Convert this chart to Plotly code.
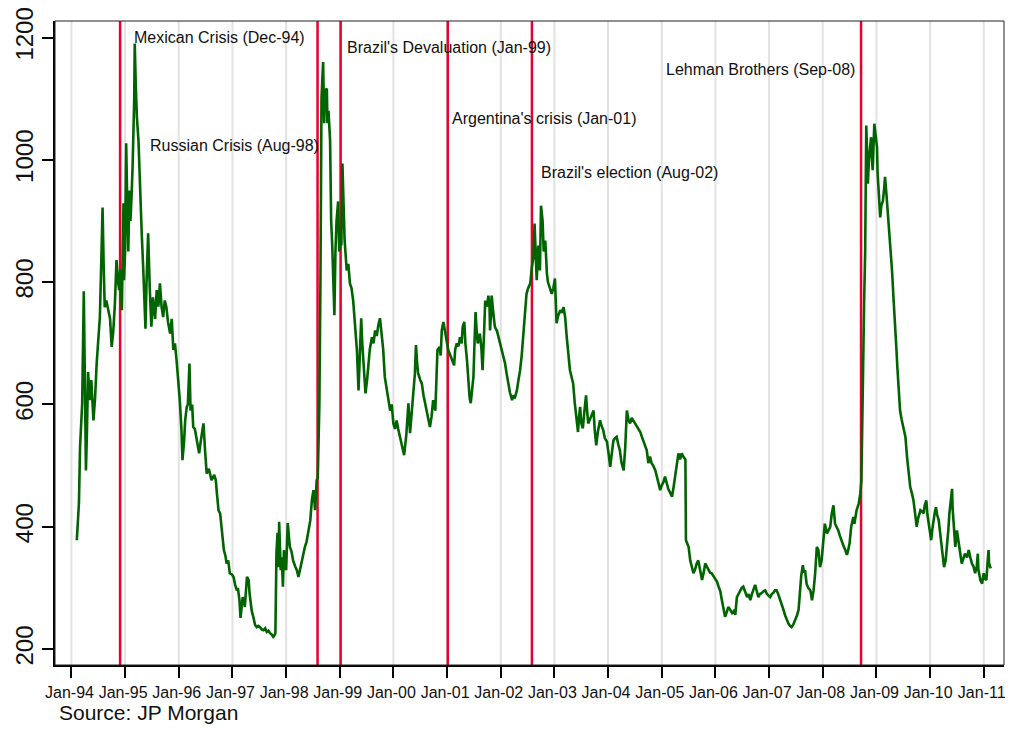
import pandas as pd
import plotly.graph_objects as go

# ---- data (decimal year, spread in bp) ----
obs_1994_1997 = [
    (1994.10, 378), (1994.14, 440), (1994.16, 530), (1994.18, 574), (1994.20, 602), (1994.23, 785),
    (1994.25, 640), (1994.27, 492), (1994.29, 560), (1994.31, 653), (1994.34, 607), (1994.37, 640),
    (1994.41, 574), (1994.44, 610), (1994.47, 667), (1994.50, 716), (1994.53, 743), (1994.56, 847),
    (1994.58, 922), (1994.60, 830), (1994.62, 759), (1994.65, 770), (1994.68, 754), (1994.72, 740),
    (1994.75, 694), (1994.78, 720), (1994.81, 765), (1994.84, 836), (1994.87, 800), (1994.89, 787),
    (1994.91, 820), (1994.94, 754), (1994.97, 929), (1994.98, 803), (1995.00, 850), (1995.02, 1027),
    (1995.04, 933), (1995.06, 850), (1995.08, 950), (1995.10, 900), (1995.12, 939), (1995.14, 988),
    (1995.17, 1098), (1995.18, 1190), (1995.20, 1120), (1995.22, 1070), (1995.25, 1031), (1995.28, 933),
    (1995.31, 880), (1995.34, 819), (1995.38, 724), (1995.40, 800), (1995.43, 880), (1995.46, 790),
    (1995.49, 727), (1995.52, 775), (1995.56, 740), (1995.59, 787), (1995.62, 760), (1995.65, 798),
    (1995.68, 760), (1995.71, 743), (1995.74, 770), (1995.77, 759), (1995.80, 735), (1995.84, 716),
    (1995.87, 740), (1995.90, 689), (1995.93, 700), (1995.96, 672), (1995.99, 640),
    (1996.02, 607), (1996.05, 560), (1996.07, 509), (1996.10, 540), (1996.12, 574), (1996.15, 596),
    (1996.17, 600), (1996.20, 667), (1996.22, 590), (1996.25, 600), (1996.27, 563), (1996.30, 560),
    (1996.33, 547), (1996.36, 530), (1996.38, 520), (1996.41, 540), (1996.46, 569), (1996.49, 525),
    (1996.52, 487), (1996.56, 495), (1996.61, 476), (1996.66, 485), (1996.69, 476), (1996.71, 455),
    (1996.74, 427), (1996.77, 422), (1996.80, 394), (1996.82, 375), (1996.84, 362), (1996.87, 352),
    (1996.89, 340), (1996.92, 345), (1996.95, 324), (1996.99, 322),
    (1997.02, 318), (1997.05, 305), (1997.08, 296), (1997.10, 300), (1997.13, 280), (1997.15, 251),
    (1997.19, 285), (1997.22, 275), (1997.23, 269), (1997.27, 318), (1997.30, 313), (1997.32, 290),
    (1997.34, 269), (1997.36, 262), (1997.39, 252), (1997.42, 240), (1997.45, 236), (1997.48, 238),
    (1997.51, 236), (1997.55, 232), (1997.58, 231), (1997.61, 234), (1997.64, 228), (1997.67, 230),
    (1997.70, 226), (1997.73, 224), (1997.76, 220), (1997.78, 222), (1997.80, 226), (1997.82, 357),
    (1997.84, 390), (1997.86, 334), (1997.87, 408), (1997.90, 329), (1997.92, 350), (1997.94, 302),
    (1997.96, 362),
]

obs_1998_2001 = [
    (1998.00, 329), (1998.03, 406), (1998.05, 380), (1998.07, 367), (1998.10, 360), (1998.13, 345),
    (1998.17, 335), (1998.20, 329), (1998.23, 318), (1998.26, 330), (1998.29, 345), (1998.32, 355),
    (1998.35, 367), (1998.38, 375), (1998.41, 390), (1998.45, 410), (1998.48, 443), (1998.51, 460),
    (1998.54, 427), (1998.57, 476), (1998.59, 480), (1998.61, 540), (1998.62, 600), (1998.64, 800),
    (1998.66, 1102), (1998.69, 1160), (1998.71, 1060), (1998.73, 1114), (1998.76, 1116), (1998.77, 1060),
    (1998.79, 1080), (1998.82, 1031), (1998.84, 900), (1998.86, 860), (1998.88, 800), (1998.90, 746),
    (1998.92, 850), (1998.94, 900), (1998.97, 932), (1998.99, 850),
    (1999.01, 880), (1999.03, 860), (1999.05, 994), (1999.07, 900), (1999.09, 870), (1999.13, 819),
    (1999.16, 830), (1999.19, 798), (1999.22, 790), (1999.25, 770), (1999.28, 740), (1999.32, 689),
    (1999.35, 623), (1999.37, 680), (1999.40, 741), (1999.42, 700), (1999.44, 672), (1999.46, 640),
    (1999.48, 618), (1999.51, 640), (1999.53, 667), (1999.56, 690), (1999.60, 710), (1999.63, 700),
    (1999.66, 721), (1999.69, 712), (1999.72, 730), (1999.75, 741), (1999.78, 716), (1999.81, 690),
    (1999.84, 645), (1999.88, 625), (1999.91, 607), (1999.94, 590), (1999.97, 600),
    (2000.00, 569), (2000.03, 560), (2000.06, 574), (2000.09, 560), (2000.12, 547), (2000.16, 535),
    (2000.20, 517), (2000.24, 550), (2000.28, 602), (2000.31, 553), (2000.34, 580), (2000.37, 618),
    (2000.40, 650), (2000.42, 697), (2000.44, 670), (2000.46, 651), (2000.50, 640), (2000.53, 634),
    (2000.56, 615), (2000.59, 602), (2000.62, 590), (2000.65, 575), (2000.68, 563), (2000.71, 580),
    (2000.74, 607), (2000.78, 590), (2000.80, 640), (2000.82, 689), (2000.86, 694), (2000.88, 680),
    (2000.90, 721), (2000.93, 735), (2000.96, 720), (2000.98, 710),
    (2001.00, 700), (2001.02, 689), (2001.06, 680), (2001.09, 672), (2001.11, 670), (2001.13, 664),
    (2001.15, 690), (2001.18, 700), (2001.21, 695), (2001.24, 710), (2001.27, 700), (2001.29, 727),
    (2001.32, 735), (2001.34, 700), (2001.37, 672), (2001.40, 634), (2001.42, 610), (2001.44, 602),
    (2001.47, 625), (2001.49, 645), (2001.51, 700), (2001.53, 751), (2001.55, 720), (2001.57, 700),
    (2001.60, 710), (2001.61, 716), (2001.64, 690), (2001.66, 656), (2001.69, 720), (2001.71, 770),
    (2001.74, 760), (2001.77, 778), (2001.79, 760), (2001.80, 721), (2001.82, 750), (2001.83, 778),
    (2001.86, 750), (2001.89, 727), (2001.93, 720), (2001.96, 710), (2001.99, 700),
]

obs_2002_2005 = [
    (2002.02, 689), (2002.05, 680), (2002.08, 667), (2002.11, 650), (2002.14, 634), (2002.17, 620),
    (2002.21, 607), (2002.23, 615), (2002.26, 610), (2002.30, 623), (2002.33, 640), (2002.36, 656),
    (2002.39, 680), (2002.42, 716), (2002.45, 750), (2002.48, 781), (2002.51, 790), (2002.55, 798),
    (2002.58, 825), (2002.61, 841), (2002.63, 896), (2002.66, 830), (2002.67, 803), (2002.70, 860),
    (2002.73, 819), (2002.75, 925), (2002.78, 900), (2002.80, 850), (2002.83, 868), (2002.86, 814),
    (2002.88, 800), (2002.91, 792), (2002.95, 781), (2002.98, 790),
    (2003.01, 806), (2003.04, 733), (2003.07, 745), (2003.11, 754), (2003.14, 750), (2003.17, 759),
    (2003.20, 743), (2003.23, 710), (2003.26, 684), (2003.29, 656), (2003.32, 645), (2003.35, 634),
    (2003.38, 602), (2003.41, 580), (2003.44, 555), (2003.46, 580), (2003.48, 596), (2003.50, 570),
    (2003.53, 561), (2003.56, 590), (2003.59, 615), (2003.61, 590), (2003.63, 569), (2003.66, 575),
    (2003.70, 585), (2003.73, 590), (2003.75, 560), (2003.78, 533), (2003.81, 555), (2003.85, 574),
    (2003.88, 565), (2003.91, 558), (2003.94, 545), (2003.98, 539),
    (2004.01, 520), (2004.04, 498), (2004.07, 520), (2004.10, 541), (2004.13, 545), (2004.16, 547),
    (2004.19, 535), (2004.22, 525), (2004.25, 505), (2004.29, 492), (2004.32, 530), (2004.35, 590),
    (2004.38, 575), (2004.41, 569), (2004.44, 578), (2004.47, 574), (2004.50, 570), (2004.54, 563),
    (2004.57, 560), (2004.60, 555), (2004.63, 547), (2004.66, 540), (2004.69, 530), (2004.72, 525),
    (2004.75, 504), (2004.78, 515), (2004.81, 504), (2004.84, 500), (2004.88, 492), (2004.91, 480),
    (2004.94, 470), (2004.97, 460),
    (2005.00, 468), (2005.03, 473), (2005.06, 482), (2005.09, 470), (2005.12, 462), (2005.16, 455),
    (2005.19, 449), (2005.22, 465), (2005.25, 482), (2005.28, 500), (2005.31, 520), (2005.34, 510),
    (2005.37, 520), (2005.40, 515), (2005.44, 510), (2005.45, 378), (2005.50, 367), (2005.53, 345),
    (2005.56, 335), (2005.59, 324), (2005.62, 330), (2005.65, 340), (2005.68, 345), (2005.71, 330),
    (2005.75, 313), (2005.78, 325), (2005.81, 340), (2005.84, 335), (2005.87, 329), (2005.90, 325),
    (2005.93, 324), (2005.96, 320), (2005.99, 316),
]

obs_2006_2011 = [
    (2006.03, 310), (2006.06, 302), (2006.09, 295), (2006.12, 280), (2006.15, 265), (2006.18, 253),
    (2006.21, 260), (2006.24, 269), (2006.27, 265), (2006.31, 259), (2006.34, 262), (2006.37, 256),
    (2006.40, 285), (2006.43, 290), (2006.46, 296), (2006.49, 300), (2006.52, 302), (2006.55, 295),
    (2006.59, 285), (2006.62, 290), (2006.65, 280), (2006.68, 290), (2006.71, 298), (2006.74, 305),
    (2006.77, 295), (2006.80, 285), (2006.83, 290), (2006.87, 292), (2006.90, 295), (2006.93, 296),
    (2006.96, 290), (2006.99, 288),
    (2007.02, 285), (2007.05, 290), (2007.08, 292), (2007.11, 296), (2007.14, 296), (2007.17, 290),
    (2007.21, 280), (2007.24, 275), (2007.27, 264), (2007.30, 255), (2007.33, 248), (2007.36, 242),
    (2007.39, 238), (2007.42, 236), (2007.45, 240), (2007.49, 247), (2007.52, 255), (2007.55, 264),
    (2007.58, 302), (2007.60, 320), (2007.63, 337), (2007.65, 325), (2007.67, 329), (2007.70, 307),
    (2007.73, 300), (2007.77, 296), (2007.80, 280), (2007.83, 296), (2007.86, 324), (2007.89, 367),
    (2007.92, 362), (2007.95, 334), (2007.98, 345),
    (2008.01, 373), (2008.04, 405), (2008.08, 389), (2008.11, 395), (2008.14, 400), (2008.17, 422),
    (2008.20, 435), (2008.23, 405), (2008.26, 400), (2008.29, 394), (2008.32, 385), (2008.36, 373),
    (2008.39, 368), (2008.42, 362), (2008.45, 354), (2008.47, 360), (2008.50, 373), (2008.53, 400),
    (2008.57, 416), (2008.59, 405), (2008.63, 427), (2008.67, 438), (2008.70, 455), (2008.72, 476),
    (2008.73, 541), (2008.75, 689), (2008.77, 765), (2008.79, 850), (2008.81, 1056), (2008.83, 1000),
    (2008.84, 961), (2008.86, 1000), (2008.90, 1037), (2008.91, 1010), (2008.93, 983), (2008.96, 1059),
    (2008.98, 1040),
    (2009.01, 1021), (2009.02, 980), (2009.04, 945), (2009.07, 906), (2009.09, 925), (2009.12, 933),
    (2009.14, 950), (2009.16, 972), (2009.19, 939), (2009.22, 906), (2009.24, 880), (2009.26, 852),
    (2009.29, 819), (2009.32, 770), (2009.34, 730), (2009.37, 694), (2009.39, 660), (2009.41, 634),
    (2009.43, 610), (2009.44, 590), (2009.47, 575), (2009.50, 563), (2009.54, 547), (2009.57, 514),
    (2009.59, 495), (2009.62, 476), (2009.63, 465), (2009.66, 455), (2009.69, 443), (2009.72, 422),
    (2009.75, 400), (2009.78, 415), (2009.82, 427), (2009.85, 425), (2009.88, 422), (2009.90, 435),
    (2009.93, 443), (2009.95, 420), (2009.97, 405), (2009.99, 390),
    (2010.02, 378), (2010.04, 395), (2010.06, 411), (2010.09, 425), (2010.11, 432), (2010.13, 420),
    (2010.16, 411), (2010.19, 385), (2010.22, 362), (2010.24, 345), (2010.26, 334), (2010.29, 345),
    (2010.31, 362), (2010.34, 395), (2010.36, 422), (2010.38, 440), (2010.41, 462), (2010.42, 430),
    (2010.44, 400), (2010.47, 367), (2010.50, 394), (2010.52, 380), (2010.55, 367), (2010.57, 350),
    (2010.59, 340), (2010.62, 348), (2010.65, 356), (2010.69, 350), (2010.72, 362), (2010.75, 350),
    (2010.78, 340), (2010.81, 335), (2010.84, 324), (2010.87, 335), (2010.89, 356), (2010.90, 330),
    (2010.92, 318), (2010.94, 312), (2010.97, 307),
    (2011.00, 324), (2011.02, 315), (2011.05, 313), (2011.07, 340), (2011.09, 362), (2011.10, 340),
    (2011.13, 332),
]

event_dates = ["1994-11-28", "1998-08-03", "1999-01-07", "2001-01-05", "2002-08-01", "2008-09-18"]

event_labels = ["Mexican Crisis (Dec-94)", "Russian Crisis (Aug-98)", "Brazil's Devaluation (Jan-99)",
                "Argentina's crisis (Jan-01)", "Brazil's election (Aug-02)", "Lehman Brothers (Sep-08)"]
label_x = ["1995-03-08", "1998-08-07", "1999-02-24", "2001-02-08", "2002-10-06", "2008-08-01"]
label_y = [1200, 1023, 1183, 1067, 980, 1148]
label_anchor = ["left", "right", "left", "left", "left", "right"]

year_ticks = [f"{y}-01-01" for y in range(1994, 2012)]
y_ticks = [200, 400, 600, 800, 1000, 1200]
source_text = "Source: JP Morgan"


def dec_to_date(y):
    yr = int(y)
    start = pd.Timestamp(yr, 1, 1)
    end = pd.Timestamp(yr + 1, 1, 1)
    return start + (end - start) * (y - yr)


obs = obs_1994_1997 + obs_1998_2001 + obs_2002_2005 + obs_2006_2011
dates = [dec_to_date(t) for t, _ in obs]
spread = [v for _, v in obs]

FONT = "Liberation Sans, Arial, sans-serif"

# the page body keeps its default 8px margin, so the figure is sized to fill the
# window exactly with it: 1013 - 16 by 733 - 16
FIG_W, FIG_H = 997, 717
ML, MR, MT, MB = 47, 1, 13, 60
PW = FIG_W - ML - MR
PH = FIG_H - MT - MB

fig = go.Figure()
fig.add_trace(go.Scatter(x=dates, y=spread, mode="lines",
                         line=dict(color="#006400", width=2.6), showlegend=False,
                         hoverinfo="x+y"))

shapes = []
# light vertical grid at each January (drawn first, under the event lines)
for d in year_ticks:
    shapes.append(dict(type="line", xref="x", yref="paper", x0=d, x1=d, y0=0, y1=1,
                       line=dict(color="#e2e2e2", width=2), layer="below"))
for d in event_dates:
    shapes.append(dict(type="line", xref="x", yref="paper", x0=d, x1=d, y0=0, y1=1,
                       line=dict(color="#e8002f", width=2.5), layer="below"))
# thin frame on top/right
shapes.append(dict(type="rect", xref="paper", yref="paper", x0=0, x1=1, y0=0, y1=1,
                   line=dict(color="#222222", width=1), layer="above"))

annotations = []
for txt, x, y, anc in zip(event_labels, label_x, label_y, label_anchor):
    annotations.append(dict(x=x, y=y, xref="x", yref="y", text=txt, showarrow=False,
                            xanchor=anc, yanchor="middle",
                            xshift=-3 if anc == "left" else 3,
                            font=dict(family=FONT, size=16, color="#111111")))
# source note: left edge at page x=60, centre near page y=712 (kept inside the figure)
annotations.append(dict(x=(60 - 8 - ML) / PW, y=((FIG_H - MB) - (712 - 8)) / PH,
                        xref="paper", yref="paper", xshift=-3,
                        text=source_text, showarrow=False, xanchor="left", yanchor="middle",
                        font=dict(family=FONT, size=21, color="#111111")))

fig.update_layout(
    width=FIG_W, height=FIG_H,
    margin=dict(l=ML, r=MR, t=MT, b=MB, pad=0),
    paper_bgcolor="white", plot_bgcolor="white",
    shapes=shapes, annotations=annotations,
    xaxis=dict(type="date", range=["1993-09-11", "2011-05-19"],
               tickmode="array", tickvals=year_ticks, tickformat="%b-%y",
               showgrid=False,
               ticks="outside", ticklen=11, tickwidth=1.5, tickcolor="black",
               showline=True, linecolor="black", linewidth=2, zeroline=False,
               ticklabelstandoff=1, ticklabelshift=-2, automargin=False,
               ticklabeloverflow="allow",
               tickfont=dict(family=FONT, size=16, color="#111111")),
    yaxis=dict(range=[174, 1227], tickmode="array", tickvals=y_ticks,
               ticktext=[str(v) for v in y_ticks], tickangle=-90,
               showgrid=False, zeroline=False,
               ticks="outside", ticklen=11, tickwidth=1.5, tickcolor="black",
               showline=True, linecolor="black", linewidth=2,
               ticklabelstandoff=-1, automargin=False, ticklabeloverflow="allow",
               tickfont=dict(family=FONT, size=24, color="#111111")),
)

fig.write_html("out.html", config={"displayModeBar": False})
